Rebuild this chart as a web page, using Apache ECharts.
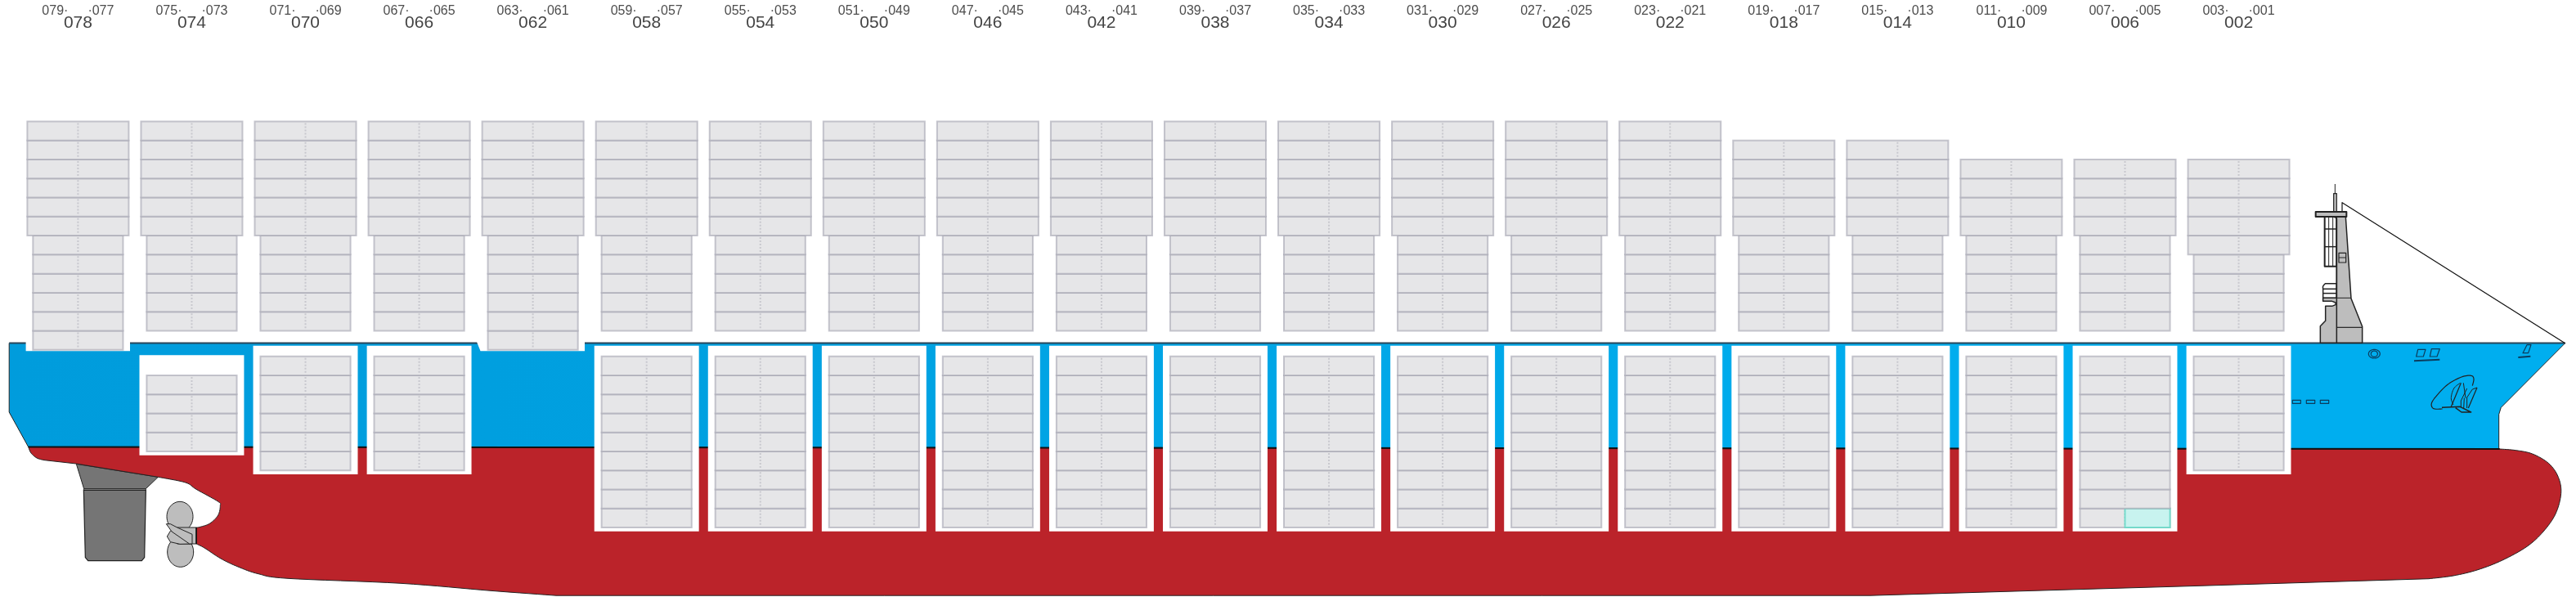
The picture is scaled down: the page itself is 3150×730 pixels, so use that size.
<!DOCTYPE html>
<html lang="en">
<head>
    <meta charset="utf-8">
    <title>Bay plan</title>
    <script src="https://cdn.jsdelivr.net/npm/echarts@6/dist/echarts.min.js"></script>
    <style>html, body { margin: 0; background: #fff; }</style>
</head>
<body>
<div id="main" style="width:3150px;height:730px;"></div>

<script type="text/javascript">
    // bays, from stern to bow
    var bays = ['078', '074', '070', '066', '062', '058', '054', '050', '046', '042', '038', '034', '030', '026', '022', '018', '014', '010', '006', '002'];
    var portLabels = ['079·', '075·', '071·', '067·', '063·', '059·', '055·', '051·', '047·', '043·', '039·', '035·', '031·', '027·', '023·', '019·', '015·', '011·', '007·', '003·'];
    var stbdLabels = ['·077', '·073', '·069', '·065', '·061', '·057', '·053', '·049', '·045', '·041', '·037', '·033', '·029', '·025', '·021', '·017', '·013', '·009', '·005', '·001'];
    // container rows per bay
    var upperTiers = [6, 6, 6, 6, 6, 6, 6, 6, 6, 6, 6, 6, 6, 6, 6, 5, 5, 4, 4, 5];
    var lowerTiers = [6, 5, 5, 5, 6, 5, 5, 5, 5, 5, 5, 5, 5, 5, 5, 5, 5, 5, 5, 4];
    var holdTiers = [0, 4, 6, 6, 0, 9, 9, 9, 9, 9, 9, 9, 9, 9, 9, 9, 9, 9, 9, 6];
    var holdDrop = [0, 1, 0, 0, 0, 0, 0, 0, 0, 0, 0, 0, 0, 0, 0, 0, 0, 0, 0, 0];
    var highlighted = [{bay: '006', row: 8, side: 1}];

    var UPPER_W = 0.446, LOWER_W = 0.396, BOX_W = 0.46;
    var HOLD_TOP = -1.341, BOX_TOP = -0.782, BOX_FOOT = 0.2;

    var RED = '#bb232a', LINE = '#222', GREY = '#bdbdbd', DARK_GREY = '#757575', FITTING = '#0b3c5d';

    // sketch helpers for the ship outline, which lives on the pixel grid
    function curve(pts) {
        var out = [];
        for (var i = 0; i < pts.length - 1; i++) {
            var p0 = pts[Math.max(i - 1, 0)], p1 = pts[i], p2 = pts[i + 1], p3 = pts[Math.min(i + 2, pts.length - 1)];
            for (var k = 0; k < 8; k++) {
                var t = k / 8, t2 = t * t, t3 = t2 * t;
                out.push([0, 1].map(function (d) {
                    return 0.5 * (2 * p1[d] + (p2[d] - p0[d]) * t + (2 * p0[d] - 5 * p1[d] + 4 * p2[d] - p3[d]) * t2 + (3 * p1[d] - p0[d] - 3 * p2[d] + p3[d]) * t3);
                }));
            }
        }
        out.push(pts[pts.length - 1]);
        return out;
    }
    function at(ox, oy, pts) {
        return pts.map(function (p) { return [ox + p[0] / 3, oy + p[1] / 3]; });
    }
    function oval(cx, cy, rx, ry) {
        var out = [];
        for (var i = 0; i < 48; i++) {
            var a = i / 48 * Math.PI * 2;
            out.push([cx + rx * Math.cos(a), cy + ry * Math.sin(a)]);
        }
        return out;
    }

    var hullOutline = [].concat(
        curve([[34.7, 546.5], [38, 554], [45, 560], [53, 562.5]]),
        [[93, 567]],
        curve([[193.3, 583.3], [226.7, 590], [240, 598.3], [266.7, 613.3], [269.3, 618.3], [266.7, 630], [256.7, 640], [245, 644.3], [240, 645]]),
        curve([[240, 665], [250, 670], [270, 683], [291, 693], [316, 701.7], [352, 707.3], [490, 713.3], [600, 722.3], [680, 728.2]]),
        [[2287, 728.2], [2700, 716]],
        curve([[2970, 707.7], [3000, 704], [3030, 696.7], [3060, 685], [3090, 668.3], [3110, 650], [3125, 628.3], [3131.7, 603.3], [3128.3, 583.3], [3116.7, 566.7], [3096.7, 555], [3076.7, 550.7], [3056.7, 549]])
    );
    var blueHull = [[11.2, 419.5], [3136.7, 419.6], [3058.3, 498.3], [3055.7, 506.7], [3055.7, 549], [34.7, 546.5], [11.2, 504]];

    var shipUnder = [
        {pts: blueHull, fill: new echarts.graphic.LinearGradient(0, 0, 1, 0, [{offset: 0, color: '#009cdc'}, {offset: 0.25, color: '#00a0e0'}, {offset: 0.8, color: '#00aeef'}, {offset: 1, color: '#00aeef'}])},
        {pts: at(60, 530, [[100, 112], [128, 203], [355, 203], [400, 160]]), fill: DARK_GREY, stroke: LINE, lw: 1},
        {pts: at(60, 530, [[127, 203], [355, 203], [355, 208], [127, 208]]), fill: '#b8b8b8', stroke: LINE, lw: 0.8},
        {pts: at(60, 530, [[127, 208], [133, 455], [143, 467], [340, 467], [350, 455], [355, 208]]), fill: DARK_GREY, stroke: LINE, lw: 1.2},
        {pts: hullOutline, fill: RED, stroke: LINE, lw: 1},
        // propeller
        {pts: at(60, 530, oval(480, 305, 48, 55)), fill: GREY, stroke: LINE, lw: 1},
        {pts: at(60, 530, oval(482, 435, 48, 55)), fill: GREY, stroke: LINE, lw: 1},
        {pts: at(60, 530, [[470, 345], [540, 345], [540, 405], [470, 405]]), fill: GREY, stroke: LINE, lw: 1},
        {pts: at(60, 530, [[445, 358], [433, 378], [445, 398], [480, 406], [520, 405], [470, 345]]), fill: GREY, stroke: LINE, lw: 1},
        {pts: at(60, 530, [[430, 332], [445, 332], [470, 345], [525, 370], [525, 405], [515, 405], [450, 360]]), fill: GREY, stroke: LINE, lw: 1},
        {pts: [[240, 645], [240, 665]], stroke: '#111', lw: 1.5, open: true},
        // hull outline edges and waterline
        {pts: [[11.2, 419.5], [11.2, 504], [34.7, 546.5]], stroke: LINE, lw: 1, open: true},
        {pts: [[3136.7, 419.6], [3058.3, 498.3], [3055.7, 506.7], [3055.7, 549]], stroke: LINE, lw: 1, open: true},
        {pts: [[34.7, 546.5], [3056.7, 549]], stroke: '#111', lw: 2, open: true},
        // deck line and the two notches for the deep stacks
        {pts: [[11.2, 419.5], [3136.7, 419.5]], stroke: '#28465a', lw: 2, open: true},
        {pts: [[31.6, 418], [159, 418], [159, 429.3], [31.6, 429.3]], fill: '#fff'},
        {pts: [[583, 418], [715, 418], [715, 429.3], [587.5, 429.3]], fill: '#fff'}
    ];

    var shipOver = [
        // bow stay
        {pts: [[2864, 258], [2864, 247.7], [3136.7, 419.7]], stroke: '#111', lw: 1.2, open: true},
        // bridge windows
        {pts: at(2780, 210, [[188, 165], [232, 165], [232, 347], [188, 347]]), fill: '#fff', stroke: LINE, lw: 2},
        {pts: at(2780, 210, [[188, 210], [232, 210]]), stroke: LINE, lw: 1.5, open: true},
        {pts: at(2780, 210, [[188, 275], [232, 275]]), stroke: LINE, lw: 1.5, open: true},
        {pts: at(2780, 210, [[203, 165], [203, 347]]), stroke: LINE, lw: 1, open: true},
        {pts: at(2780, 210, [[218, 165], [218, 347]]), stroke: LINE, lw: 1, open: true},
        // steps
        {pts: at(2780, 210, curve([[190, 410], [182, 420], [182, 430]]).concat([[182, 475], [232, 475], [232, 410]])), fill: '#fff', stroke: LINE, lw: 1.5},
        {pts: at(2780, 210, [[182, 430], [232, 430]]), stroke: LINE, lw: 1.5, open: true},
        {pts: at(2780, 210, [[182, 446], [232, 446]]), stroke: LINE, lw: 1.5, open: true},
        // superstructure
        {pts: at(2780, 210, [[172, 628], [172, 566], [191, 547], [191, 493], [215, 493], [228, 488], [228, 480], [215, 475], [182, 475], [182, 463], [232, 463], [232, 170], [220, 165], [265, 165], [285, 465], [326, 568], [326, 628]]), fill: GREY, stroke: LINE, lw: 1.5},
        {pts: at(2780, 210, [[232, 170], [232, 628]]), stroke: LINE, lw: 1.5, open: true},
        {pts: at(2780, 210, [[182, 463], [285, 463]]), stroke: LINE, lw: 1, open: true},
        {pts: at(2780, 210, [[232, 571], [326, 571]]), stroke: LINE, lw: 1.2, open: true},
        {pts: at(2780, 210, [[240, 298], [266, 298], [266, 333], [240, 333]]), stroke: LINE, lw: 1.2},
        {pts: at(2780, 210, [[240, 315], [266, 315]]), stroke: LINE, lw: 1, open: true},
        // mast and platform
        {pts: at(2780, 210, [[226, 45], [226, 80]]), stroke: LINE, lw: 1, open: true},
        {pts: at(2780, 210, [[221, 80], [232, 80], [232, 147], [221, 147]]), fill: GREY, stroke: LINE, lw: 1.2},
        {pts: at(2780, 210, [[155, 147], [268, 147], [268, 165], [155, 165]]), fill: GREY, stroke: LINE, lw: 2},
        // fittings on the bow
        {pts: at(2760, 400, [[130, 268], [160, 268], [160, 280], [130, 280]]), stroke: FITTING, lw: 1.2},
        {pts: at(2760, 400, [[181, 268], [212, 268], [212, 280], [181, 280]]), stroke: FITTING, lw: 1.2},
        {pts: at(2760, 400, [[232, 268], [263, 268], [263, 280], [232, 280]]), stroke: FITTING, lw: 1.2},
        {pts: at(2760, 400, oval(430, 98, 21, 16)), stroke: FITTING, lw: 1.2},
        {pts: at(2760, 400, oval(430, 98, 12, 11)), stroke: FITTING, lw: 1.2},
        {pts: at(2760, 400, [[590, 82], [618, 82], [610, 108], [584, 108]]), stroke: FITTING, lw: 1.2},
        {pts: at(2760, 400, [[640, 80], [670, 80], [660, 108], [634, 108]]), stroke: FITTING, lw: 1.2},
        {pts: at(2760, 400, [[576, 124], [670, 119]]), stroke: FITTING, lw: 2, open: true},
        {pts: at(2760, 400, [[990, 65], [1005, 65], [995, 95], [975, 95]]), stroke: FITTING, lw: 1.2},
        {pts: at(2760, 400, [[958, 111], [1003, 107]]), stroke: FITTING, lw: 2, open: true},
        // anchor
        {pts: at(2760, 400, curve([[680, 300], [648, 299], [640, 280], [660, 250], [700, 210], [750, 183], [785, 178], [795, 190], [790, 215]])), stroke: LINE, lw: 1.2, open: true},
        {pts: at(2760, 400, curve([[745, 205], [722, 225], [712, 260], [720, 285]])), stroke: LINE, lw: 1, open: true},
        {pts: at(2760, 400, [[678, 295], [745, 292], [785, 312], [750, 312], [728, 296]]), stroke: LINE, lw: 1.5, open: true},
        {pts: at(2760, 400, [[748, 205], [712, 292]]), stroke: LINE, lw: 1.2, open: true},
        {pts: at(2760, 400, [[757, 205], [765, 260]]), stroke: LINE, lw: 1, open: true},
        {pts: at(2760, 400, [[807, 222], [775, 297]]), stroke: LINE, lw: 1.2, open: true},
        {pts: at(2760, 400, [[770, 225], [748, 270], [748, 295]]), stroke: LINE, lw: 1, open: true},
        {pts: at(2760, 400, [[807, 222], [790, 228], [770, 258], [770, 297]]), stroke: LINE, lw: 1, open: true},
        {pts: at(2760, 400, [[760, 260], [758, 298]]), stroke: LINE, lw: 1, open: true}
    ];

    // one entry per row of containers: [bay index, lower tier, half width, side to tint]
    var cells = [];
    var boxes = [];
    bays.forEach(function (bay, i) {
        var base = lowerTiers[i] > 5 ? -1 : 0;
        for (var r = 0; r < lowerTiers[i]; r++) cells.push([i, base + r, LOWER_W, -1]);
        var top = base + lowerTiers[i];
        for (var u = 0; u < upperTiers[i]; u++) cells.push([i, top + u, UPPER_W, -1]);
        if (holdTiers[i]) {
            var holdTop = HOLD_TOP - holdDrop[i];
            var foot = holdTop - holdTiers[i];
            boxes.push([i, BOX_TOP - holdDrop[i] / 2, foot - BOX_FOOT]);
            for (var h = 0; h < holdTiers[i]; h++) {
                var row = holdTiers[i] - 1 - h;
                var tint = highlighted.filter(function (c) { return c.bay === bay && c.row === row; })[0];
                cells.push([i, foot + h, LOWER_W, tint ? tint.side : -1]);
            }
        }
    });

    function shapeSeries(list) {
        return {
            type: 'custom',
            xAxisIndex: 0,
            yAxisIndex: 0,
            silent: true,
            animation: false,
            clip: false,
            data: list.map(function (s, i) { return [i, 0]; }),
            renderItem: function (params, api) {
                var s = list[params.dataIndex];
                return {
                    type: s.open ? 'polyline' : 'polygon',
                    shape: {points: s.pts.map(function (p) { return api.coord(p); })},
                    style: {fill: s.open ? null : (s.fill || null), stroke: s.stroke || null, lineWidth: s.lw || 0, lineJoin: 'round'}
                };
            }
        };
    }

    function corners(api, x0, y0, x1, y1) {
        var a = api.coord([x0, y0]), b = api.coord([x1, y1]);
        return {x: a[0], y: a[1], width: b[0] - a[0], height: b[1] - a[1]};
    }

    var myChart = echarts.init(document.getElementById('main'), null, {renderer: 'canvas'});

    var option = {
        animation: false,
        grid: [
            {left: 0, right: 0, top: 0, bottom: 0},
            {left: 0, right: 0, top: 0, bottom: 0}
        ],
        // grid 0 is the ship drawing, grid 1 counts bays across and container tiers up from the deck
        xAxis: [
            {type: 'value', show: false, gridIndex: 0, min: 0, max: 3150},
            {type: 'value', show: false, gridIndex: 1, min: -0.686, max: 21.966}
        ],
        yAxis: [
            {type: 'value', show: false, gridIndex: 0, min: 0, max: 730, inverse: true},
            {type: 'value', show: false, gridIndex: 1, min: -13.99, max: 17.38}
        ],
        series: [
            shapeSeries(shipUnder),
            {
                type: 'custom',
                xAxisIndex: 1,
                yAxisIndex: 1,
                silent: true,
                clip: false,
                data: boxes,
                renderItem: function (params, api) {
                    var x = api.value(0);
                    return {
                        type: 'rect',
                        shape: corners(api, x - BOX_W, api.value(1), x + BOX_W, api.value(2)),
                        style: {fill: '#fff'}
                    };
                }
            },
            shapeSeries(shipOver),
            {
                type: 'custom',
                xAxisIndex: 1,
                yAxisIndex: 1,
                silent: true,
                clip: false,
                data: cells,
                renderItem: function (params, api) {
                    var x = api.value(0), y = api.value(1), w = api.value(2), side = api.value(3);
                    var box = corners(api, x - w, y + 1, x + w, y);
                    var mid = api.coord([x, y + 1]);
                    var kids = [
                        {type: 'rect', shape: box, style: {fill: '#e6e6e8', stroke: 'rgba(165,165,178,0.62)', lineWidth: 2}},
                        {type: 'line', shape: {x1: mid[0], y1: box.y + 2, x2: mid[0], y2: box.y + box.height - 2}, style: {stroke: '#c8c8ce', lineWidth: 2, lineDash: [2, 2]}}
                    ];
                    if (side > 0) {
                        kids.push({type: 'rect', shape: corners(api, x, y + 1, x + w, y), style: {fill: '#c8f3ef', stroke: 'rgba(90,215,195,0.75)', lineWidth: 2}});
                    }
                    return {type: 'group', children: kids};
                }
            },
            {
                type: 'custom',
                xAxisIndex: 1,
                yAxisIndex: 1,
                silent: true,
                clip: false,
                data: bays.map(function (b, i) { return [i, 15.7]; }),
                renderItem: function (params, api) {
                    var i = params.dataIndex;
                    var c = api.coord([api.value(0), api.value(1)]);
                    var font = '"Liberation Sans", Arial, sans-serif';
                    return {
                        type: 'group',
                        children: [
                            {type: 'text', style: {text: bays[i], x: c[0], y: c[1], textAlign: 'center', textVerticalAlign: 'bottom', font: '21px ' + font, fill: '#444'}},
                            {type: 'text', style: {text: portLabels[i], x: c[0] - 12, y: c[1] - 18, textAlign: 'right', textVerticalAlign: 'bottom', font: '16px ' + font, fill: '#4d4d4d'}},
                            {type: 'text', style: {text: stbdLabels[i], x: c[0] + 12, y: c[1] - 18, textAlign: 'left', textVerticalAlign: 'bottom', font: '16px ' + font, fill: '#4d4d4d'}}
                        ]
                    };
                }
            }
        ]
    };

    myChart.setOption(option);
</script>

</body>
</html>
